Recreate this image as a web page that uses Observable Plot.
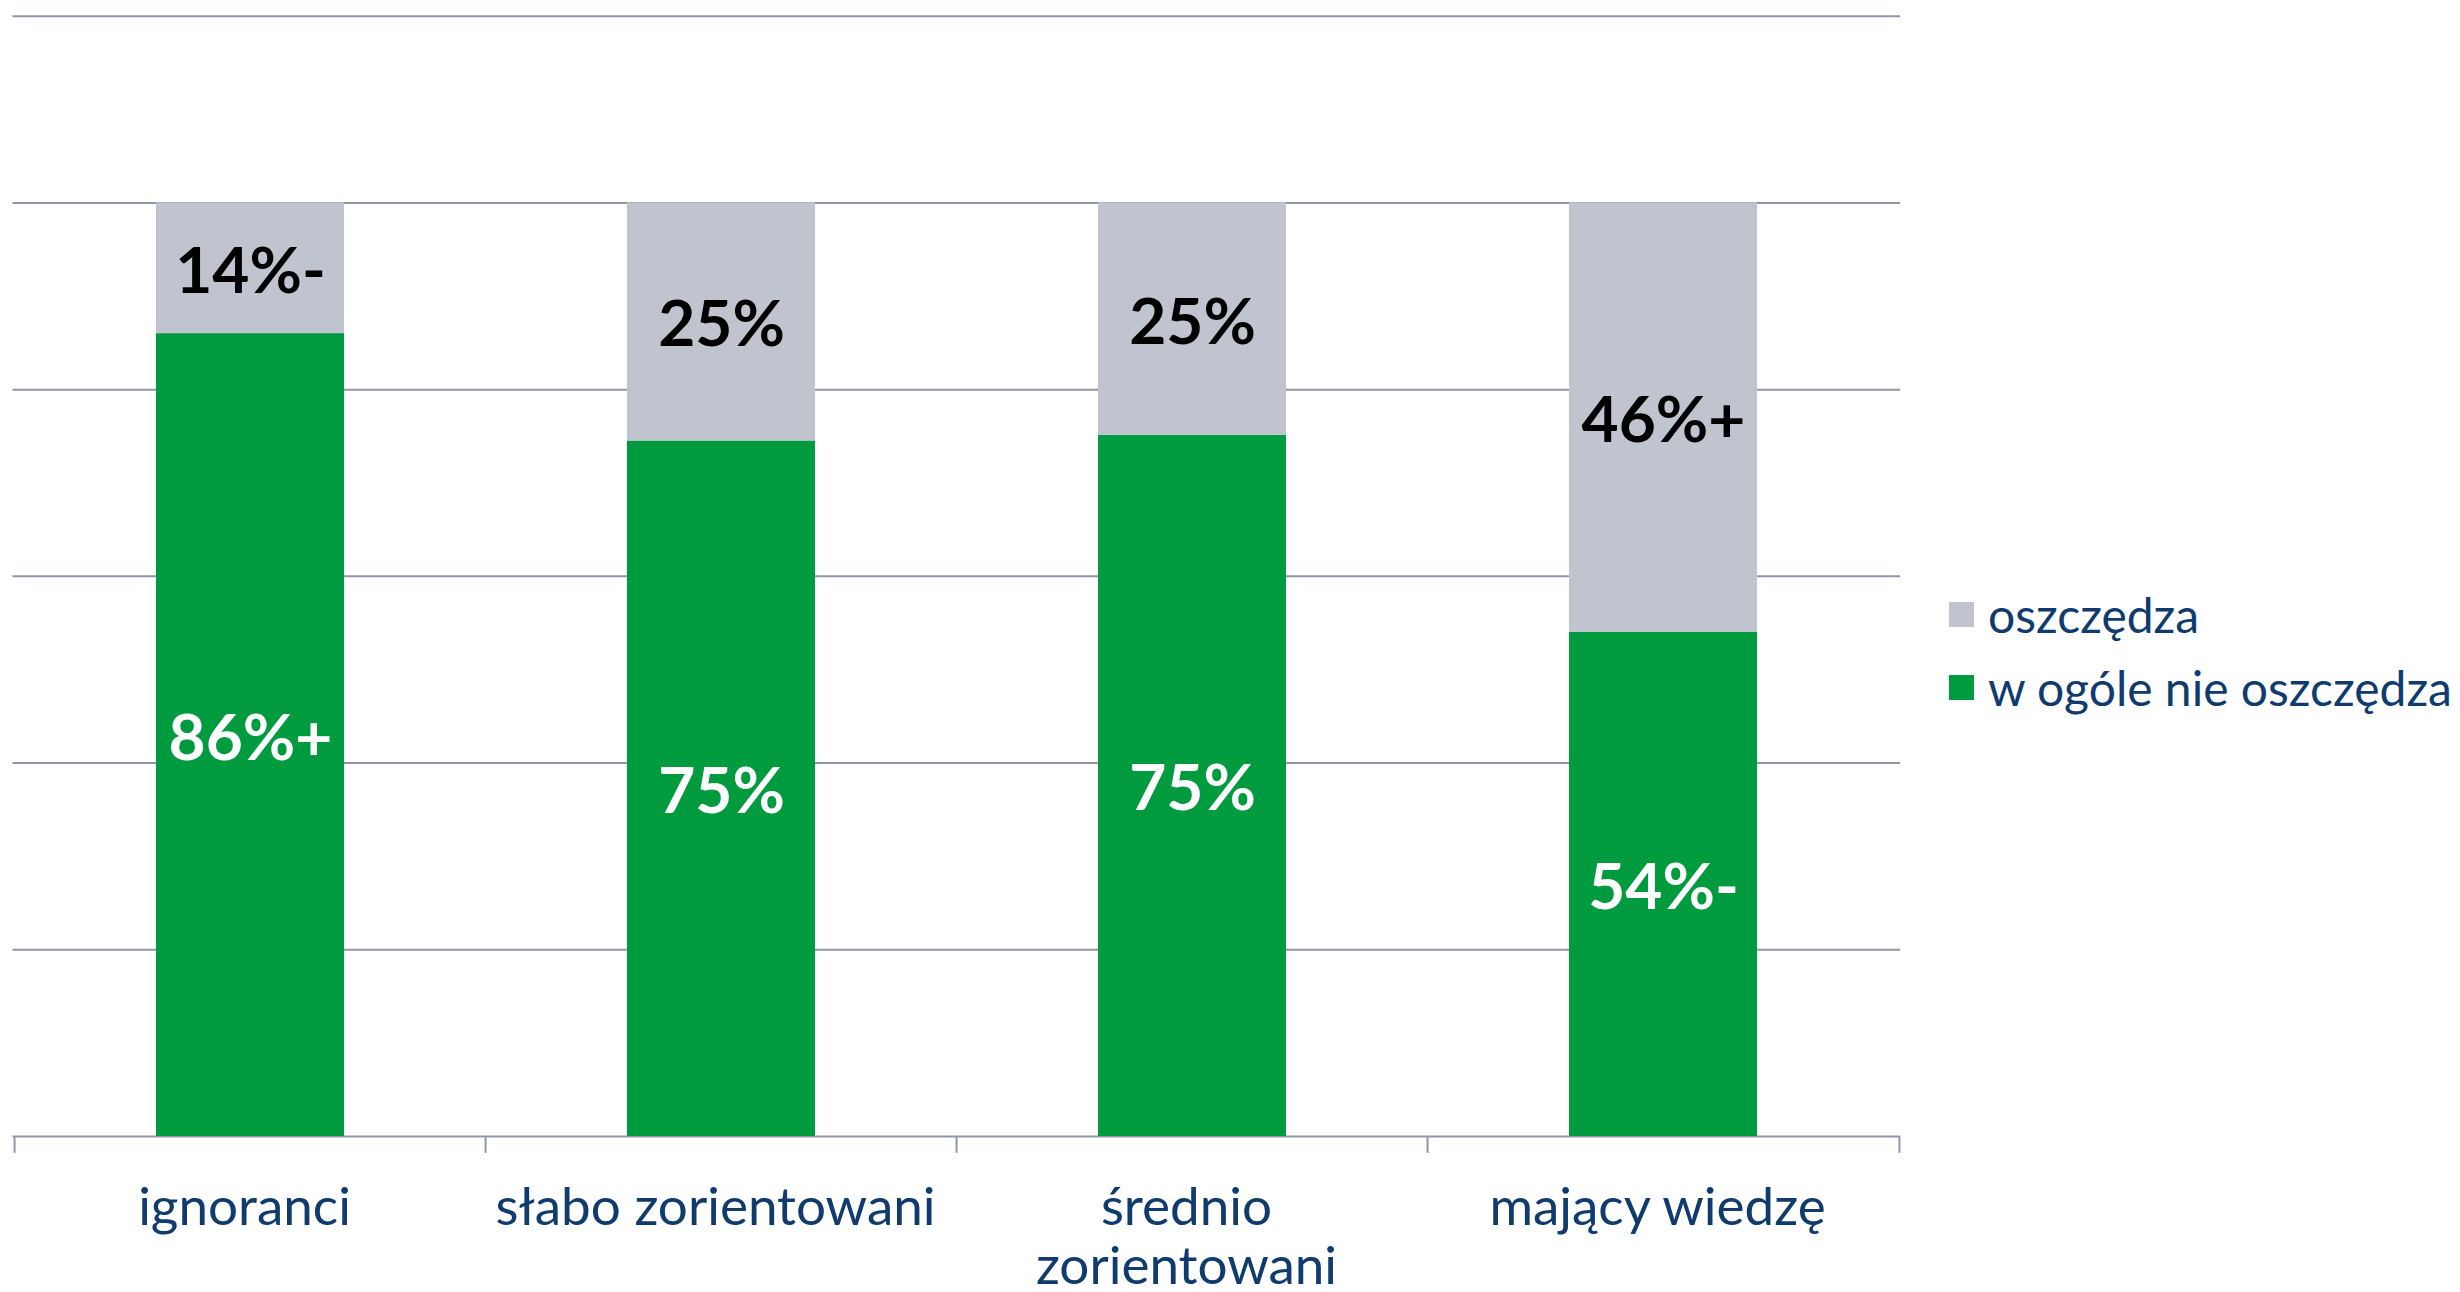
<!DOCTYPE html>
<html>
<head>
<meta charset="utf-8">
<script src="https://cdn.jsdelivr.net/npm/d3@7"></script>
<script src="https://cdn.jsdelivr.net/npm/@observablehq/plot@0.6"></script>
<style>
  html, body { margin: 0; padding: 0; background: #fff; }
  #wrap { position: relative; width: 2460px; height: 1292px; font-family: Lato, sans-serif; overflow: hidden; }
  #legend { position: absolute; left: 1949px; top: 0; }
  .item { position: absolute; white-space: nowrap; display: flex; align-items: center; color: #0f3b6e; font-size: 48px; }
  .sw { width: 25px; height: 25px; margin-right: 14px; }
</style>
</head>
<body>
<div id="wrap"></div>
<script>
const categories = ["ignoranci", "słabo zorientowani", "średnio zorientowani", "mający wiedzę"];
const tickLabels = ["ignoranci", "słabo zorientowani", "średnio\nzorientowani", "mający wiedzę"];
const series = ["w ogóle nie oszczędza", "oszczędza"];
const nieOszczedza = [86, 74.5, 75.1, 54];
const oszczedza = [14, 25.5, 24.9, 46];
const labelsNie = ["86%+", "75%", "75%", "54%-"];
const labelsOsz = ["14%-", "25%", "25%", "46%+"];
const colors = ["#009a3f", "#bfc4cf"];
const gridTicks = [0, 20, 40, 60, 80, 100, 120];

const data = categories.flatMap((c, i) => [
  {cat: c, series: series[0], value: nieOszczedza[i], label: labelsNie[i]},
  {cat: c, series: series[1], value: oszczedza[i], label: labelsOsz[i]}
]);

const W = 2460, H = 1292, mL = 12.5, mR = 560, mT = 15.7, mB = 156;
const step = (W - mL - mR) / categories.length;
const gridColor = "#8f96a9";

const chart = Plot.plot({
  width: W, height: H,
  marginLeft: mL, marginRight: mR, marginTop: mT, marginBottom: mB,
  style: {fontFamily: "Lato, sans-serif", background: "#fff", overflow: "visible"},
  x: {domain: categories, paddingInner: 0.6, paddingOuter: 0.3, label: null},
  y: {domain: [0, 120], axis: null},
  color: {domain: series, range: colors},
  marks: [
    Plot.ruleY(gridTicks, {stroke: gridColor, strokeWidth: 2}),
    Plot.ruleX(categories, {x: d => d, dx: -step / 2, y1: 0, y2: -1.8, stroke: gridColor, strokeWidth: 2}),
    Plot.ruleX([categories[categories.length - 1]], {x: d => d, dx: step / 2, y1: 0, y2: -1.8, stroke: gridColor, strokeWidth: 2}),
    Plot.barY(data, Plot.stackY({x: "cat", y: "value", fill: "series"})),
    Plot.text(data, Plot.stackY({
      x: "cat", y: "value", z: "series", text: d => d.series === series[0] ? d.label : null,
      fill: "#ffffff", fontSize: 64, fontWeight: "bold", dy: 4
    })),
    Plot.text(data, Plot.stackY({
      x: "cat", y: "value", z: "series", text: d => d.series === series[1] ? d.label : null,
      fill: "#000000", fontSize: 64, fontWeight: "bold", dy: 4
    })),
    Plot.axisX({
      tickSize: 0, tickPadding: 46, fontSize: 53, color: "#0f3b6e", dx: -6,
      tickFormat: d => tickLabels[categories.indexOf(d)], lineHeight: 1.12
    })
  ]
});

const wrap = document.getElementById("wrap");
wrap.appendChild(chart);

const legend = document.createElement("div");
legend.id = "legend";
const legendOrder = [1, 0];
const legendTops = [614, 687];
legendOrder.forEach((si, k) => {
  const item = document.createElement("div");
  item.className = "item";
  item.style.top = (legendTops[k] - 30) + "px";
  item.style.height = "60px";
  const sw = document.createElement("div");
  sw.className = "sw";
  sw.style.background = colors[si];
  const tx = document.createElement("span");
  tx.textContent = series[si];
  item.appendChild(sw);
  item.appendChild(tx);
  legend.appendChild(item);
});
wrap.appendChild(legend);
</script>
</body>
</html>
